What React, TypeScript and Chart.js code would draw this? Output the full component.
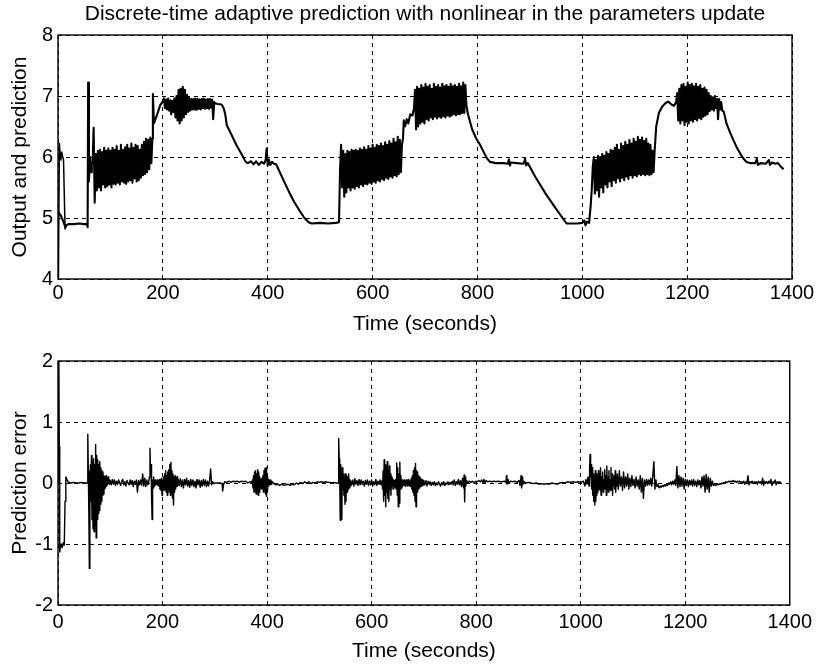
import React, { useEffect, useRef } from "react";
import { Chart, registerables } from "chart.js";

Chart.register(...registerables);

const FONT_FAMILY = '"Liberation Sans", Arial, Helvetica, sans-serif';
const TICK_FONT_SIZE = 20;
const LABEL_FONT_SIZE = 21;

const TITLE = "Discrete-time adaptive prediction with nonlinear in the parameters update";
const X_LABEL = "Time (seconds)";
const Y_LABEL_TOP = "Output and prediction";
const Y_LABEL_BOTTOM = "Prediction error";

const X_MIN = 0;
const X_MAX = 1400;
const X_STEP = 200;
const TOP_Y_MIN = 4;
const TOP_Y_MAX = 8;
const BOTTOM_Y_MIN = -2;
const BOTTOM_Y_MAX = 2;
const Y_STEP = 1;

// ---------- Top plot: output (irregular parts as [time, value] pairs) ----------
const outA = [[0.5, 5.1], [3, 5.07], [6, 5.03], [9, 4.97], [12, 4.9], [14, 4.85], [16, 4.88], [20, 4.9], [30, 4.9], [40, 4.91], [50, 4.9], [55, 4.9], [56.5, 4.85], [57.5, 7.22], [59, 5.6], [61, 6.0], [63, 5.75], [64.5, 5.9]];
// oscillating stretches: [start time, sample step, values]
const outBand1: [number, number, number[]] = [66, 2, [
  5.9, 6.48, 5.25, 6.05, 5.45, 6.1, 5.5, 6.12, 5.45, 6.08,
  5.55, 6.15, 5.5, 6.1, 5.52, 6.14, 5.55, 6.1, 5.5, 6.15,
  5.56, 6.12, 5.55, 6.18, 5.58, 6.1, 5.55, 6.2, 5.6, 6.12,
  5.58, 6.16, 5.56, 6.2, 5.6, 6.14, 5.62, 6.22, 5.58, 6.15,
  5.65, 6.2, 5.6, 6.18, 5.62, 6.12, 5.66, 6.2, 5.7, 6.25,
  5.72, 6.3, 5.75, 6.28, 5.8, 6.32, 5.9]];
const outB = [[180, 6.3], [181, 7.03], [183, 6.55], [186, 6.62], [190, 6.72], [195, 6.85], [199, 6.9]];
const outBand2: [number, number, number[]] = [202, 2, [
  6.96, 6.8, 6.94, 6.78, 6.96, 6.76, 6.93, 6.7, 6.92, 6.74,
  6.96, 6.65, 7.0, 6.6, 7.1, 6.55, 7.12, 6.6, 7.15, 6.65,
  7.1, 6.7, 7.02, 6.74, 6.97, 6.76, 6.95, 6.78, 6.95, 6.78,
  6.96, 6.77, 6.95, 6.79, 6.94, 6.78, 6.95, 6.8, 6.96, 6.79,
  6.94, 6.8, 6.95, 6.79, 6.95, 6.81, 6.94, 6.62, 6.9, 6.88]];
const outC = [[305, 6.87], [312, 6.86], [316, 6.8], [319, 6.7], [322, 6.52], [330, 6.38], [340, 6.2], [350, 6.05], [358, 5.92], [362, 5.9], [368, 5.93], [373, 5.88], [378, 5.93], [383, 5.87], [388, 5.92], [393, 5.89], [396, 5.95], [398, 6.14], [400, 5.86], [402, 5.96], [405, 5.87], [408, 5.92], [412, 5.89], [416, 5.88], [422, 5.77], [430, 5.62], [440, 5.44], [450, 5.27], [460, 5.13], [470, 5.0], [478, 4.93], [484, 4.91], [500, 4.92], [515, 4.91], [530, 4.92], [536, 4.93], [538, 5.8]];
const outBand3: [number, number, number[]] = [540, 2, [
  6.2, 5.5, 6.1, 5.35, 6.05, 5.42, 6.1, 5.5, 6.08, 5.45,
  6.12, 5.5, 6.1, 5.48, 6.12, 5.52, 6.1, 5.5, 6.14, 5.55,
  6.12, 5.52, 6.16, 5.56, 6.12, 5.55, 6.18, 5.58, 6.14, 5.56,
  6.2, 5.6, 6.15, 5.58, 6.2, 5.62, 6.18, 5.6, 6.22, 5.64,
  6.18, 5.62, 6.24, 5.66, 6.2, 5.64, 6.26, 5.68, 6.22, 5.66,
  6.3, 5.7, 6.24, 5.68, 6.33, 5.72, 6.28, 5.75, 6.2]];
const outD = [[658, 6.3], [659.5, 6.6], [662, 6.5], [665, 6.62], [668, 6.55], [672, 6.7], [676, 6.68], [679, 6.8]];
const outBand4: [number, number, number[]] = [681, 2, [
  7.1, 6.45, 7.15, 6.5, 7.12, 6.55, 7.18, 6.58, 7.14, 6.55,
  7.2, 6.62, 7.15, 6.6, 7.18, 6.65, 7.12, 6.62, 7.2, 6.66,
  7.15, 6.63, 7.18, 6.66, 7.14, 6.64, 7.2, 6.67, 7.16, 6.65,
  7.18, 6.68, 7.15, 6.66, 7.2, 6.68, 7.16, 6.7, 7.18, 6.68,
  7.15, 6.7, 7.2, 6.7, 7.16, 6.72, 7.22, 6.72, 7.18, 6.85]];
const outE = [[782, 6.7], [790, 6.45], [798, 6.3], [805, 6.2], [812, 6.08], [818, 5.98], [824, 5.92], [835, 5.9], [850, 5.9], [858, 5.89], [860, 5.96], [862, 5.86], [864, 5.91], [875, 5.9], [888, 5.89], [891, 5.97], [893, 5.86], [896, 5.9], [910, 5.68], [930, 5.4], [950, 5.15], [970, 4.91], [990, 4.91], [1000, 4.92], [1004, 4.96], [1006, 4.88], [1009, 4.94], [1013, 4.92], [1016, 5.2], [1018, 5.46], [1020, 5.84]];
const outBand5: [number, number, number[]] = [1022, 2, [
  6.0, 5.4, 5.95, 5.45, 6.02, 5.35, 6.0, 5.5, 6.05, 5.42,
  6.02, 5.55, 6.08, 5.5, 6.05, 5.6, 6.12, 5.52, 6.1, 5.62,
  6.15, 5.58, 6.2, 5.65, 6.12, 5.6, 6.22, 5.66, 6.18, 5.62,
  6.25, 5.68, 6.2, 5.64, 6.28, 5.7, 6.22, 5.66, 6.3, 5.7,
  6.25, 5.68, 6.33, 5.72, 6.28, 5.7, 6.32, 5.72, 6.26, 5.7,
  6.3, 5.72, 6.22, 5.7, 6.2, 5.72, 6.1, 5.75]];
const outF = [[1138, 6.1], [1141, 6.5], [1146, 6.72], [1152, 6.82], [1158, 6.88], [1164, 6.91], [1170, 6.86], [1175, 6.84], [1179, 6.9]];
const outBand6: [number, number, number[]] = [1181, 2, [
  7.05, 6.6, 7.12, 6.55, 7.18, 6.6, 7.2, 6.52, 7.15, 6.58,
  7.22, 6.55, 7.18, 6.6, 7.2, 6.58, 7.16, 6.62, 7.2, 6.6,
  7.15, 6.64, 7.18, 6.62, 7.12, 6.66, 7.14, 6.68, 7.1, 6.7,
  7.05, 6.75, 7.0, 6.78, 6.98, 6.76, 7.0, 6.8, 6.95, 6.62,
  6.95, 6.78, 6.9, 6.76]];
const outG = [[1270, 6.74], [1275, 6.55], [1282, 6.4], [1288, 6.28], [1295, 6.15], [1301, 6.06], [1307, 5.98], [1313, 5.92], [1320, 5.9], [1330, 5.9], [1333, 5.97], [1335, 5.87], [1340, 5.9], [1350, 5.89], [1356, 5.95], [1358, 5.87], [1362, 5.91], [1368, 5.89], [1373, 5.9], [1378, 5.85], [1384, 5.8]];

// prediction start-up transient (afterwards it lies on the output)
const predStart = [[0, 3.0], [1.8, 3.0], [2.6, 6.22], [4, 6.05], [5.5, 5.95], [7, 6.08], [9, 6.0], [10.5, 5.96], [13.5, 4.82], [15.5, 4.88], [20, 4.9]];

// ---------- Bottom plot: prediction error ----------
const errA = [[0, 0], [1.5, 2.2], [2.5, 0.6], [3.3, -1.13], [4.5, -1.05], [6, -1.0], [8, -1.06], [10, -0.98], [12, -1.02], [13.5, -0.3], [15, 0.1], [17, 0.06], [20, 0.01], [25, 0.0], [30, 0.01], [35, 0.0], [40, 0.0], [45, 0.01], [50, 0.0], [55, 0.0]];
const errBurst1: [number, number, number[]] = [56, 1, [
  0.0, 0.8, 0.2, -0.5, -1.4, -0.2, 0.3, -0.3, 0.45, -0.6,
  0.35, -0.75, 0.4, -0.8, 0.3, -0.7, 0.63, -0.9, 0.45, -0.6,
  0.38, -0.5, 0.3, -0.45, 0.35, -0.35, 0.25, -0.3, 0.2, -0.2,
  0.18, -0.18, 0.12, -0.1, 0.1, -0.08, 0.12, -0.05, 0.06, -0.03,
  0.1, 0.0, 0.05, -0.02]];
const errQuiet1: [number, number, number[]] = [100, 2, [
  0.04, -0.03, 0.06, -0.02, 0.05, -0.04, 0.03, -0.02, 0.05, 0.0,
  -0.04, 0.03, 0.06, -0.03, 0.02, -0.05, 0.04, 0.0, -0.03, 0.05,
  -0.02, 0.04, -0.06, 0.03, -0.02, 0.05, -0.15, 0.04, -0.03, 0.05,
  -0.04, 0.15, -0.05, 0.08, -0.06, 0.05, -0.03, 0.04]];
const errBurst2: [number, number, number[]] = [175, 1, [
  0.1, 0.57, 0.2, 0.3, -0.2, -0.6, 0.05, -0.08, 0.1, -0.05,
  0.02, 0.05, -0.03, 0.04, -0.02, 0.05, -0.04, 0.03, -0.05, 0.06,
  -0.1, 0.05, -0.12, 0.08, -0.2, 0.05, -0.08, 0.1, -0.12, 0.15,
  -0.1, 0.2, -0.15, 0.12, -0.2, 0.18, -0.1, 0.22, -0.15, 0.3,
  -0.2, 0.34, -0.1, 0.2, -0.25, 0.15, -0.36, 0.1, -0.15, 0.12,
  -0.1, 0.08, -0.06, 0.1, -0.05, 0.06]];
const errQuiet2: [number, number, number[]] = [232, 2, [
  -0.04, 0.07, -0.06, 0.05, -0.08, 0.06, -0.03, 0.08, -0.05, 0.04,
  -0.07, 0.06, -0.04, 0.05, -0.06, 0.03, -0.08, 0.06, -0.03, 0.05,
  -0.07, 0.04, -0.05, 0.06, -0.04, 0.05, -0.06, 0.03, -0.05, 0.04,
  0.23, -0.03, 0.02, -0.01, 0.0]];
const errQuiet3 = [[302, 0.0], [310, 0.0], [314, -0.01], [315, -0.13], [317, -0.02], [319, 0.02], [323, 0.01], [327, 0.03], [331, 0.01], [335, 0.03], [339, 0.02], [343, 0.03], [347, 0.01], [351, 0.03], [355, 0.02], [359, 0.03], [363, 0.0], [367, 0.02], [371, 0.01]];
const errBurst4: [number, number, number[]] = [372, 1, [
  0.05, -0.08, 0.12, -0.15, 0.18, -0.1, 0.2, -0.18, 0.15, -0.12,
  0.22, -0.2, 0.18, -0.15, 0.1, -0.05, 0.06, -0.1, 0.08, -0.05,
  0.12, -0.15, 0.2, -0.1, 0.24, -0.18, 0.25, -0.22, 0.1, -0.12,
  0.06, -0.05, 0.04, -0.03, 0.05, -0.02, 0.03, -0.02, 0.02]];
const errQuiet4: [number, number, number[]] = [412, 4, [
  0.0, -0.03, -0.02, -0.04, -0.02, -0.04, -0.03, -0.02, -0.04, -0.02,
  -0.03, 0.0, -0.02, 0.01, -0.01, 0.02, 0.0, 0.02, -0.01, 0.01,
  0.0, 0.02, 0.01, 0.02, 0.01, 0.02, 0.01, 0.01, 0.0, 0.01,
  0.0, 0.0]];
const errBurst5: [number, number, number[]] = [537, 1, [
  0.73, 0.4, 0.1, -0.61, 0.3, -0.2, -0.6, 0.25, -0.1, 0.15,
  -0.2, 0.1, -0.35, 0.15, -0.3, 0.12, -0.15, 0.1, -0.1, 0.15,
  -0.08, 0.06, -0.05, 0.04]];
const errQuiet5: [number, number, number[]] = [562, 2, [
  -0.03, 0.05, -0.05, 0.07, -0.02, 0.04, -0.04, 0.06, -0.03, 0.05,
  -0.02, 0.03, -0.05, 0.04, -0.02, 0.05, -0.04, 0.03, -0.03, 0.05,
  -0.05, 0.02, -0.03, 0.06, -0.04, 0.03, -0.02, 0.05, -0.03, 0.04]];
const errBurst6: [number, number, number[]] = [621, 1, [
  -0.1, 0.2, -0.3, 0.38, -0.2, 0.3, -0.39, 0.25, -0.15, 0.35,
  -0.25, 0.2, -0.3, 0.28, -0.1, 0.15, -0.2, 0.1, -0.05, 0.08,
  -0.1, 0.05, -0.05, 0.04, -0.08, 0.06, -0.1, 0.33, -0.2, 0.25,
  -0.39, 0.15, -0.33, 0.34, -0.1, 0.12, -0.08, 0.06, -0.05, 0.04,
  -0.03, 0.05, -0.04, 0.03, -0.06, 0.05, -0.03, 0.04, -0.05, 0.06,
  -0.04, 0.03, -0.05, 0.04, -0.06, 0.08, -0.1, 0.12, -0.15, 0.2,
  -0.2, 0.25, -0.3, 0.32, -0.39, 0.2, -0.15, 0.18, -0.1, 0.12,
  -0.08, 0.1, -0.06, 0.08, -0.05, 0.06, -0.04, 0.05, -0.03, 0.04]];
const errQuiet6: [number, number, number[]] = [702, 2, [
  -0.03, 0.04, -0.05, 0.03, -0.02, 0.02, -0.04, 0.01, -0.03, 0.02,
  -0.04, 0.0, -0.03, 0.02, -0.02, -0.05, 0.01, -0.03, 0.02, -0.04,
  0.0, -0.02, 0.02, -0.03, 0.01, -0.02, 0.03, -0.03, 0.05, -0.04,
  0.02, -0.02, 0.06, -0.03, 0.04, -0.06, 0.08, -0.08]];
const errMid = [[777, 0.13], [778, -0.31], [779, 0.1], [780, -0.05], [782, 0.04], [784, 0.0], [787, 0.03], [790, 0.01], [793, 0.03], [796, 0.0], [799, 0.03], [802, 0.02], [805, 0.04], [808, 0.02], [811, 0.05], [813, 0.0], [815, 0.06], [817, 0.0], [819, 0.04], [822, 0.02], [826, 0.03], [830, 0.02], [834, 0.03], [838, 0.02], [842, 0.03], [846, 0.02], [850, 0.02], [854, 0.03], [857, 0.01], [858, 0.12], [859, -0.02], [861, 0.06], [863, 0.0], [866, 0.03], [870, 0.02], [874, 0.03], [878, 0.01], [882, 0.04], [884, -0.04], [886, 0.12], [887, -0.08], [888, 0.1], [889, -0.03], [891, 0.03], [895, 0.0], [900, 0.01], [905, 0.0], [910, -0.01], [915, 0.0], [920, -0.02], [925, -0.01], [930, -0.02], [935, -0.01], [940, -0.02], [945, 0.0], [950, -0.01], [955, -0.02], [960, 0.0], [965, 0.01], [970, 0.0], [975, 0.02], [980, 0.01], [985, 0.02], [990, 0.01], [995, 0.02], [1000, 0.01], [1005, 0.03], [1008, -0.05], [1010, 0.06], [1012, -0.02], [1014, 0.1], [1016, -0.05]];
const errBurst8: [number, number, number[]] = [1017, 1, [
  0.2, 0.47, 0.1, 0.3, -0.1, 0.25, -0.2, 0.15, -0.3, 0.1,
  -0.36, 0.2, -0.3, 0.15, -0.2, 0.1, -0.15, 0.2, -0.1, 0.15,
  -0.12, 0.25, -0.2, 0.1, -0.05, 0.18, -0.15, 0.05, -0.1, 0.22,
  -0.08, 0.12, -0.2, 0.28, -0.1, 0.1, -0.15, 0.2, -0.08, 0.05,
  -0.12, 0.25, -0.1, 0.15, -0.2, 0.1, -0.05, 0.12, -0.1, 0.2,
  -0.15, 0.08, -0.05, 0.15]];
const errTail: [number, number, number[]] = [1072, 2, [
  -0.1, 0.2, -0.05, 0.1, -0.12, 0.18, -0.08, 0.1, -0.05, 0.15,
  -0.1, 0.08, -0.06, 0.12, -0.04, 0.06, -0.08, 0.1, -0.05, 0.05,
  -0.1, 0.12, -0.15, 0.08, -0.25, 0.05, -0.05, 0.06, -0.04, 0.05,
  -0.03, 0.08, -0.05, 0.12, 0.35, -0.1, 0.05, -0.06, -0.03, -0.08,
  -0.05, -0.07, -0.04, -0.06, -0.03, -0.05, -0.02, -0.04, 0.0, -0.02,
  0.02, -0.03, 0.03, -0.02, 0.05, -0.04, 0.27, -0.08, 0.12, -0.06,
  0.1, -0.05, 0.08, -0.1, 0.06, -0.04, 0.05, -0.06, 0.04, -0.03,
  0.05, -0.05, 0.06, -0.04, 0.03, -0.06, 0.05, -0.03, 0.04, -0.08,
  0.1, -0.05, 0.12, -0.15, 0.14, -0.1, 0.1, -0.15, 0.08, -0.05,
  0.03, -0.04, -0.02, -0.04, -0.03, -0.02, -0.03, -0.01, -0.02, 0.0,
  -0.01, 0.01, 0.0, 0.02, 0.01, 0.02, 0.03, 0.02, 0.03, 0.02,
  0.04, 0.02, 0.03, 0.01, 0.03, 0.02, 0.03, 0.01, 0.02, 0.0,
  0.03, -0.02, 0.02, -0.01, 0.12, -0.03, 0.02, 0.0, 0.03, -0.01,
  0.02, 0.0, 0.02, -0.02, 0.03, 0.0, 0.02, -0.02, 0.08, -0.04,
  0.03, 0.0, 0.02, -0.01, 0.03, 0.0, 0.06, -0.04, 0.02, 0.0,
  0.05, -0.03, 0.02, 0.0, 0.02, 0.01, 0.01]];

type Pt = { x: number; y: number };
type Sampled = [number, number, number[]];

function fromPairs(p: number[][]): Pt[] {
  return p.map(([x, y]) => ({ x, y }));
}
function fromSampled(s: Sampled): Pt[] {
  const [start, step, vals] = s;
  return vals.map((y, i) => ({ x: start + i * step, y }));
}

const outputSeries: Pt[] = [
  ...fromPairs(outA), ...fromSampled(outBand1), ...fromPairs(outB), ...fromSampled(outBand2),
  ...fromPairs(outC), ...fromSampled(outBand3), ...fromPairs(outD), ...fromSampled(outBand4),
  ...fromPairs(outE), ...fromSampled(outBand5), ...fromPairs(outF), ...fromSampled(outBand6),
  ...fromPairs(outG),
];
const predictionSeries: Pt[] = fromPairs(predStart);
const errorSeries: Pt[] = [
  ...fromPairs(errA), ...fromSampled(errBurst1), ...fromSampled(errQuiet1), ...fromSampled(errBurst2),
  ...fromSampled(errQuiet2), ...fromPairs(errQuiet3), ...fromSampled(errBurst4), ...fromSampled(errQuiet4),
  ...fromSampled(errBurst5), ...fromSampled(errQuiet5), ...fromSampled(errBurst6), ...fromSampled(errQuiet6),
  ...fromPairs(errMid), ...fromSampled(errBurst8), ...fromSampled(errTail),
];

const framePlugin = {
  id: "frameBox",
  afterDraw(chart: any) {
    const { ctx, chartArea: a } = chart;
    ctx.save();
    ctx.strokeStyle = "#000";
    ctx.lineWidth = 1.4;
    ctx.strokeRect(a.left, a.top, a.right - a.left, a.bottom - a.top);
    ctx.restore();
  },
};

const tickFont = { family: FONT_FAMILY, size: TICK_FONT_SIZE, weight: "normal" as const };
const labelFont = { family: FONT_FAMILY, size: LABEL_FONT_SIZE, weight: "normal" as const };

function lineDs(data: Pt[], width: number) {
  return {
    data,
    borderColor: "#000",
    backgroundColor: "#000",
    borderWidth: width,
    pointRadius: 0,
    tension: 0,
    fill: false,
    borderJoinStyle: "round" as const,
  };
}

function makeConfig(opts: {
  datasets: any[];
  yMin: number;
  yMax: number;
  yTitle: string;
  title?: string;
  padTop: number;
  xAxisHeight: number;
  xTickPad: number;
  xTitlePadBottom: number;
}) {
  return {
    type: "line" as const,
    data: { datasets: opts.datasets },
    options: {
      animation: false as const,
      responsive: false,
      events: [],
      layout: { padding: { left: 0, right: 25, top: opts.padTop, bottom: 0 } },
      plugins: {
        legend: { display: false },
        tooltip: { enabled: false },
        title: opts.title
          ? { display: true, fullSize: false, text: opts.title, color: "#000", font: labelFont, padding: { top: 2, bottom: 7.8 } }
          : { display: false },
      },
      scales: {
        x: {
          type: "linear" as const,
          min: X_MIN,
          max: X_MAX,
          ticks: {
            stepSize: X_STEP,
            color: "#000",
            font: tickFont,
            padding: opts.xTickPad,
            maxRotation: 0,
            autoSkip: false,
            callback: (v: any) => String(v),
          },
          grid: { color: "#000", lineWidth: 1, drawTicks: false },
          border: { display: false, dash: [4, 4] },
          title: { display: true, text: X_LABEL, color: "#000", font: labelFont, padding: { top: 0, bottom: opts.xTitlePadBottom } },
          afterFit(scale: any) {
            scale.height = opts.xAxisHeight;
          },
        },
        y: {
          type: "linear" as const,
          min: opts.yMin,
          max: opts.yMax,
          ticks: { stepSize: Y_STEP, color: "#000", font: tickFont, padding: 5, callback: (v: any) => String(v) },
          grid: { color: "#000", lineWidth: 1, drawTicks: false },
          border: { display: false, dash: [4, 4] },
          title: { display: true, text: opts.yTitle, color: "#000", font: labelFont, padding: { top: 8, bottom: 0 } },
          afterFit(scale: any) {
            scale.width = 58;
          },
        },
      },
    },
    plugins: [framePlugin],
  };
}

function ChartCanvas(props: { config: any; width: number; height: number; top: number }) {
  const ref = useRef<HTMLCanvasElement | null>(null);
  useEffect(() => {
    if (!ref.current) return;
    const chart = new Chart(ref.current, props.config);
    return () => chart.destroy();
  }, []);
  return (
    <canvas
      ref={ref}
      width={props.width}
      height={props.height}
      style={{ position: "absolute", left: 0, top: props.top, width: props.width, height: props.height, display: "block" }}
    />
  );
}

export default function App() {
  const topConfig = makeConfig({
    datasets: [lineDs(outputSeries, 2.1), lineDs(predictionSeries, 1.5)],
    yMin: TOP_Y_MIN,
    yMax: TOP_Y_MAX,
    yTitle: Y_LABEL_TOP,
    title: TITLE,
    padTop: 0,
    xAxisHeight: 61,
    xTickPad: 2,
    xTitlePadBottom: 3,
  });
  const bottomConfig = makeConfig({
    datasets: [lineDs(errorSeries, 1.4)],
    yMin: BOTTOM_Y_MIN,
    yMax: BOTTOM_Y_MAX,
    yTitle: Y_LABEL_BOTTOM,
    padTop: 21,
    xAxisHeight: 59,
    xTickPad: 5,
    xTitlePadBottom: 0,
  });
  return (
    <div style={{ position: "absolute", left: 0, top: 0, width: 817, height: 664, background: "#fff" }}>
      <ChartCanvas config={topConfig} width={817} height={340} top={0} />
      <ChartCanvas config={bottomConfig} width={817} height={324} top={340} />
    </div>
  );
}
